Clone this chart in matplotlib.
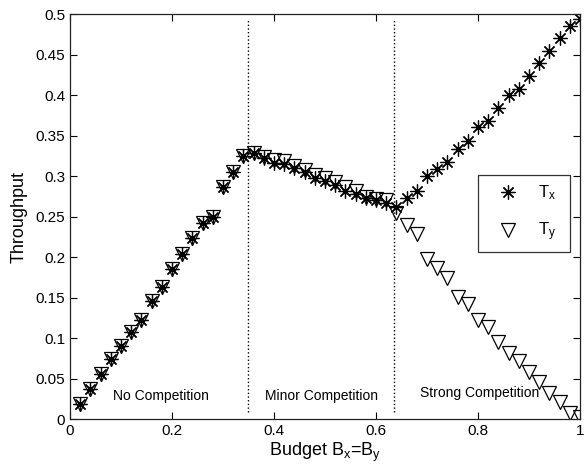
import matplotlib
matplotlib.use("Agg")
import matplotlib.pyplot as plt
import numpy as np
from matplotlib.ticker import FormatStrFormatter

plt.rcParams["font.family"] = ["Liberation Sans", "DejaVu Sans"]
plt.rcParams["mathtext.fontset"] = "custom"
plt.rcParams["mathtext.rm"] = "Liberation Sans"
plt.rcParams["mathtext.it"] = "Liberation Sans"

# budget values (B_x = B_y)
budget = [0.02, 0.04, 0.06, 0.08, 0.10, 0.12, 0.14, 0.16, 0.18, 0.20,
          0.22, 0.24, 0.26, 0.28, 0.30, 0.32, 0.34, 0.36, 0.38, 0.40,
          0.42, 0.44, 0.46, 0.48, 0.50, 0.52, 0.54, 0.56, 0.58, 0.60,
          0.62, 0.64, 0.66, 0.68, 0.70, 0.72, 0.74, 0.76, 0.78, 0.80,
          0.82, 0.84, 0.86, 0.88, 0.90, 0.92, 0.94, 0.96, 0.98, 1.00]

t_x = [0.019, 0.037, 0.056, 0.074, 0.090, 0.108, 0.122, 0.146, 0.163, 0.185,
       0.204, 0.223, 0.242, 0.249, 0.286, 0.305, 0.325, 0.328, 0.322, 0.316,
       0.315, 0.310, 0.305, 0.298, 0.294, 0.289, 0.282, 0.278, 0.273, 0.271,
       0.267, 0.262, 0.2725, 0.282, 0.300, 0.309, 0.317, 0.334, 0.343, 0.360,
       0.368, 0.384, 0.400, 0.408, 0.4235, 0.439, 0.455, 0.470, 0.485, 0.4935]

t_y = [0.019, 0.037, 0.056, 0.074, 0.090, 0.108, 0.122, 0.146, 0.163, 0.185,
       0.204, 0.223, 0.242, 0.249, 0.286, 0.305, 0.325, 0.329, 0.324, 0.320,
       0.318, 0.312, 0.308, 0.301, 0.297, 0.293, 0.286, 0.281, 0.274, 0.272,
       0.270, 0.255, 0.2395, 0.228, 0.198, 0.187, 0.174, 0.151, 0.142, 0.122,
       0.113, 0.0955, 0.081, 0.072, 0.058, 0.046, 0.0325, 0.021, 0.008, 0.003]

# regime boundaries and their labels
boundaries = [0.348, 0.636]
regions = ["No Competition", "Minor Competition", "Strong Competition"]
region_x = [0.178, 0.494, 0.803]
region_y = [0.028, 0.029, 0.0325]

fig = plt.figure(figsize=(5.84, 4.70), dpi=100)
ax = fig.add_axes([0.12, 0.1085, 0.873, 0.8615])

asterisk = (8, 2, 0)
ax.plot(budget, t_x, linestyle="none", marker=asterisk, markersize=10,
        markeredgewidth=0.9, color="black", label=r"T$_\mathrm{x}$  ")
ax.plot(budget, t_y, linestyle="none", marker="v", markersize=10.5,
        markeredgewidth=0.9, markerfacecolor="none", markeredgecolor="black",
        label=r"T$_\mathrm{y}$  ")

for b in boundaries:
    ax.plot([b, b], [0.009, 0.4926], linestyle=":", color="black", linewidth=1.0)

for name, xx, yy in zip(regions, region_x, region_y):
    ax.text(xx, yy, name, ha="center", va="center", fontsize=10)

ax.set_xlim(0, 1)
ax.set_ylim(0, 0.5)
ax.set_xticks([0, 0.2, 0.4, 0.6, 0.8, 1.0])
ax.set_yticks(np.arange(0, 0.501, 0.05))
ax.xaxis.set_major_formatter(FormatStrFormatter("%g"))
ax.yaxis.set_major_formatter(FormatStrFormatter("%g"))
ax.tick_params(direction="in", top=True, right=True, length=5, width=0.8,
               labelsize=11, colors="black")
for sp in ax.spines.values():
    sp.set_linewidth(0.9)
    sp.set_color("#222222")

ax.set_xlabel(r"Budget B$_\mathrm{x}$=B$_\mathrm{y}$", fontsize=13, labelpad=2)
ax.set_ylabel("Throughput", fontsize=13, labelpad=6)

leg = ax.legend(loc="upper right", bbox_to_anchor=(0.98, 0.602), fontsize=12,
                frameon=True, fancybox=False, edgecolor="black",
                borderpad=0.5, labelspacing=1.1, handlelength=2.6,
                handletextpad=0.5, borderaxespad=0)
leg.get_frame().set_linewidth(0.9)

fig.savefig("out.png", dpi=100)
